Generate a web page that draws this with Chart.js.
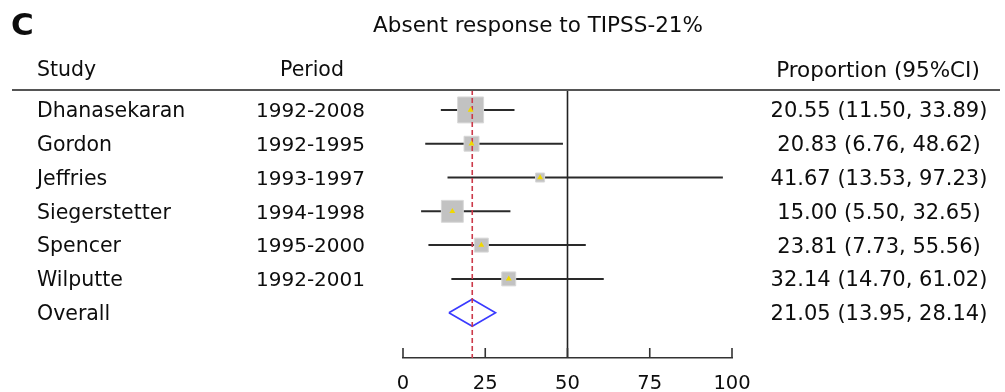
<!DOCTYPE html>
<html>
<head>
<meta charset="utf-8">
<script src="https://cdn.jsdelivr.net/npm/chart.js@4.4.0/dist/chart.umd.min.js"></script>
<style>html,body{margin:0;background:#fff}canvas{display:block}</style>
</head>
<body>
<canvas id="forest" width="1005" height="392"></canvas>
<script>
// Forest plot: pooled proportion of absent response to TIPSS, per study + overall
const studies=['Dhanasekaran','Gordon','Jeffries','Siegerstetter','Spencer','Wilputte'];
const periods=['1992-2008','1992-1995','1993-1997','1994-1998','1995-2000','1992-2001'];
const est=[20.55,20.83,41.67,15.00,23.81,32.14];
const lower=[11.50,6.76,13.53,5.50,7.73,14.70];
const upper=[33.89,48.62,97.23,32.65,55.56,61.02];
const weights=[36.4,12.1,4.4,26.0,10.5,10.5];   // study weights (%), set box area
const overall=[21.05,13.95,28.14];              // estimate, lower, upper
const xTicks=[0,25,50,75,100];
const NULL_LINE=50;

const INK='#0d0d0d', FONT='"DejaVu Sans", Verdana, sans-serif';
const Y_TOP=-0.59, Y_BOTTOM=7.34, OVERALL_ROW=studies.length;
const fmt=v=>v.toFixed(2);

const rows=studies.map((s,i)=>i);
const whiskers=rows.map(i=>({type:'scatter',showLine:true,order:4,
  data:[{x:lower[i],y:i},{x:upper[i],y:i}],
  borderColor:'#2a2a2a',borderWidth:2,pointRadius:0}));

const datasets=[
  // study point estimates (yellow markers on top of the boxes)
  {type:'scatter',order:0,data:rows.map(i=>({x:est[i],y:i})),
   pointStyle:'triangle',pointRadius:3.4,backgroundColor:'#f0d800',borderWidth:0},
  // pooled estimate reference line
  {type:'scatter',showLine:true,order:1,data:[{x:overall[0],y:Y_TOP},{x:overall[0],y:Y_BOTTOM}],
   borderColor:'#cc3a4a',borderWidth:1.6,borderDash:[5,3],pointRadius:0},
  // weight boxes
  {type:'scatter',order:2,data:rows.map(i=>({x:est[i],y:i})),
   pointStyle:'rect',pointRadius:rows.map(i=>4.3*Math.sqrt(weights[i])/Math.SQRT2),
   backgroundColor:'#c2c2c2',borderColor:'#d8d8d8',borderWidth:1},
  // overall diamond
  {type:'scatter',showLine:true,order:3,
   data:[{x:overall[1],y:OVERALL_ROW},{x:overall[0],y:OVERALL_ROW-0.4},{x:overall[2],y:OVERALL_ROW},
         {x:overall[0],y:OVERALL_ROW+0.4},{x:overall[1],y:OVERALL_ROW}],
   borderColor:'#3a3aff',borderWidth:1.6,pointRadius:0,fill:false},
  ...whiskers,
  // vertical line at 50
  {type:'scatter',showLine:true,order:5,data:[{x:NULL_LINE,y:Y_TOP},{x:NULL_LINE,y:Y_BOTTOM}],
   borderColor:'#222',borderWidth:1.6,pointRadius:0}
];

const tablePlugin={id:'table',afterDraw(chart){
  const {ctx,chartArea:a,scales:{x,y}}=chart;
  ctx.save();
  ctx.fillStyle=INK;
  ctx.textBaseline='middle';
  ctx.textAlign='left';
  ctx.font='bold 31px '+FONT;
  ctx.fillText('C',11,27);
  ctx.font='21.5px '+FONT;
  ctx.textAlign='center';
  ctx.fillText('Absent response to TIPSS-21%',538,26);
  ctx.font='20.5px '+FONT;
  ctx.textAlign='left';
  ctx.fillText('Study',37,71);
  ctx.fillText('Period',280,71);
  ctx.font='21.5px '+FONT;
  ctx.textAlign='center';
  ctx.fillText('Proportion (95%CI)',878,71);
  // rule under the header
  ctx.strokeStyle='#555';ctx.lineWidth=2;
  ctx.beginPath();ctx.moveTo(12,a.top);ctx.lineTo(1000,a.top);ctx.stroke();
  const row=(i,name,period,e,lo,hi)=>{
    const py=y.getPixelForValue(i)+2;
    ctx.textAlign='left';
    ctx.font='20.5px '+FONT;
    ctx.fillText(name,37,py);
    ctx.font='20px '+FONT;
    if(period) ctx.fillText(period,256,py);
    ctx.font='21px '+FONT;
    ctx.textAlign='center';
    ctx.fillText(fmt(e)+' ('+fmt(lo)+', '+fmt(hi)+')',879,py);
  };
  rows.forEach(i=>row(i,studies[i],periods[i],est[i],lower[i],upper[i]));
  row(OVERALL_ROW,'Overall','',overall[0],overall[1],overall[2]);
  // upward tick marks on the x axis
  ctx.strokeStyle='#333';ctx.lineWidth=1.6;
  xTicks.forEach(v=>{
    const px=x.getPixelForValue(v);
    ctx.beginPath();ctx.moveTo(px,a.bottom-10);ctx.lineTo(px,a.bottom);ctx.stroke();
  });
  ctx.restore();
}};

new Chart(document.getElementById('forest'),{
  type:'scatter',
  data:{datasets},
  options:{
    animation:false,responsive:false,
    layout:{padding:{left:403,right:273,top:90,bottom:0}},
    plugins:{legend:{display:false},tooltip:{enabled:false}},
    scales:{
      x:{type:'linear',min:0,max:100,
         afterBuildTicks:s=>{s.ticks=xTicks.map(v=>({value:v}));},
         afterFit:s=>{s.height=34;},
         ticks:{color:INK,font:{family:FONT,size:19.5},padding:14,maxRotation:0},
         grid:{display:false,drawTicks:false},
         border:{display:true,color:'#333',width:1.6}},
      y:{type:'linear',reverse:true,min:Y_TOP,max:Y_BOTTOM,display:false}
    }
  },
  plugins:[tablePlugin]
});
</script>
</body>
</html>
